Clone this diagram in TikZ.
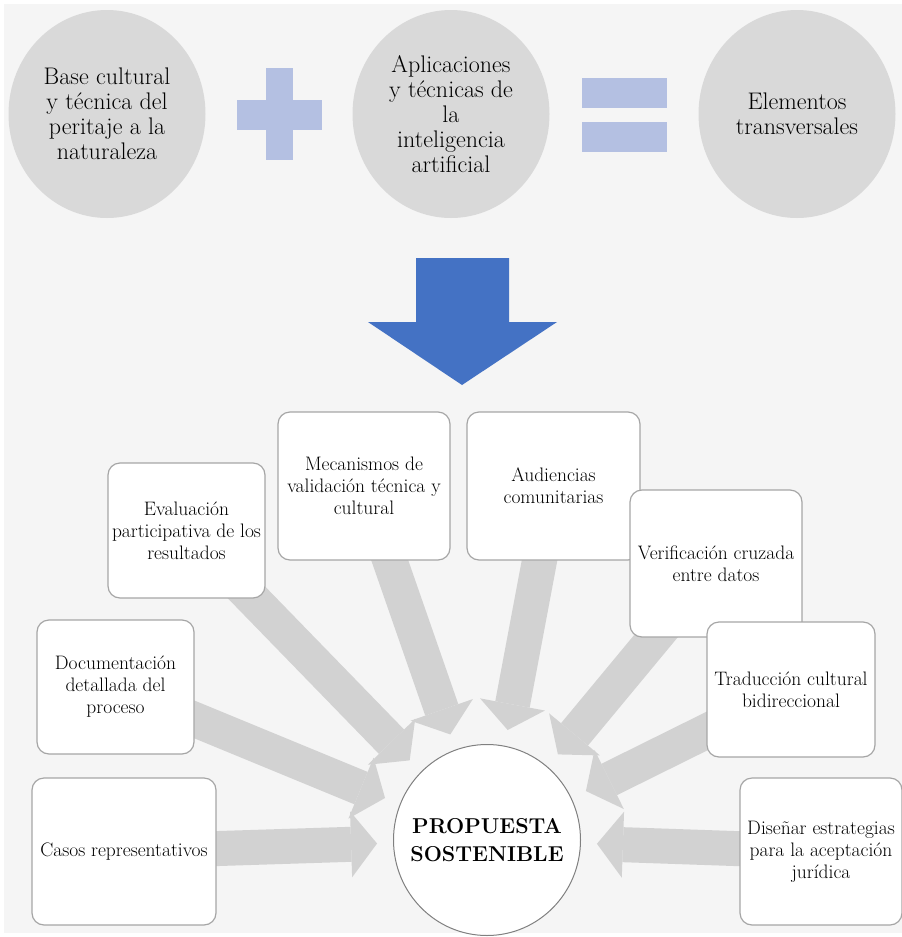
\documentclass[tikz,border=0pt]{standalone}
\usepackage{tikz}
\usetikzlibrary{arrows.meta, shapes.geometric, positioning, calc}
\definecolor{bggray}{HTML}{F5F5F5}
\definecolor{discgray}{HTML}{D9D9D9}
\definecolor{signblue}{HTML}{B4C0E2}
\definecolor{downblue}{HTML}{4472C4}
\definecolor{flowgray}{HTML}{D2D2D2}
\definecolor{edgegray}{HTML}{A6A6A6}
\pgfdeclarelayer{background}
\pgfsetlayers{background,main}
\tikzset{
  disc/.style={
    ellipse, fill=discgray, minimum width=197pt, minimum height=208pt,
    inner sep=0pt, align=center, font=\fontsize{24}{25}\selectfont
  },
  card/.style={
    rectangle, draw=edgegray, line width=1.2pt, fill=white, rounded corners=12pt,
    inner sep=2pt, align=center, font=\fontsize{19.5}{22}\selectfont
  },
  hub/.style={
    ellipse, draw=gray, line width=1pt, fill=white, minimum width=187pt,
    minimum height=191pt, inner sep=0pt
  },
  hubtext/.style={align=center, font=\fontsize{21.5}{28}\selectfont\bfseries},
  flow/.style={draw=flowgray, line width=35pt,
    -{Triangle[width=66pt, length=26pt, line width=0pt]},
    shorten >=16pt, shorten <=-30pt}
}

\begin{document}
\begin{tikzpicture}[x=1pt, y=-1pt]
    \useasboundingbox (0,0) rectangle (902,937);
    
    % Top row
    \node[disc] (base) at (107,114) {Base cultural\\y técnica del\\peritaje a la\\naturaleza};
    \node[disc] (ia) at (451,114) {Aplicaciones\\y técnicas de\\la\\inteligencia\\artificial};
    \node[disc] (elem) at (797,114) {Elementos\\transversales};
    \fill[signblue] (266,68) rectangle (293,160);
    \fill[signblue] (237,100) rectangle (322,130);
    \fill[signblue] (582,78) rectangle (667,108);
    \fill[signblue] (582,122) rectangle (667,152);
    \fill[downblue] (416,258) -- (509,258) -- (509,322) -- (557,322) -- (462,385)
      -- (368,322) -- (416,322) -- cycle;
    
    % Cards
    \node[card, minimum width=157pt, minimum height=135pt] (eval) at (186.5,530.5) {Evaluación\\participativa de los\\resultados};
    \node[card, minimum width=172pt, minimum height=148pt] (mec) at (364,486) {Mecanismos de\\validación técnica y\\cultural};
    \node[card, minimum width=173pt, minimum height=148pt] (aud) at (553.5,486) {Audiencias\\comunitarias};
    \node[card, minimum width=172pt, minimum height=147pt] (verif) at (716,563.5) {Verificación cruzada\\entre datos};
    \node[card, minimum width=168pt, minimum height=135pt] (trad) at (791,689.5) {Traducción cultural\\bidireccional};
    \node[card, minimum width=157pt, minimum height=134pt] (doc) at (115.5,687) {Documentación\\detallada del\\proceso};
    \node[card, minimum width=184pt, minimum height=147pt] (casos) at (124,851.5) {Casos representativos};
    \node[card, minimum width=162pt, minimum height=147pt] (dis) at (821,851.5) {Diseñar estrategias\\para la aceptación\\jurídica};
    
    % Centre
    \node[hub] (prop) at (487,840) {};
    \node[hubtext] (proptext) at (prop.center) {PROPUESTA\\SOSTENIBLE};
    
    \begin{pgfonlayer}{background}
    \fill[bggray] (4,4) rectangle (902,933);
    \foreach \src in {eval, mec, aud, verif, trad, doc, casos, dis}
      \draw[flow] (\src) -- (prop);
    \end{pgfonlayer}
    
\end{tikzpicture}
\end{document}
